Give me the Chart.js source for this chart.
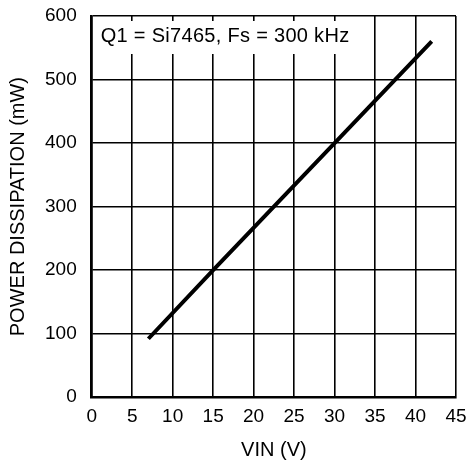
<!DOCTYPE html>
<html>
<head>
<meta charset="utf-8">
<script src="https://cdn.jsdelivr.net/npm/chart.js@4"></script>
<style>
  html, body { margin: 0; padding: 0; background: #fff; }
  #wrap { width: 472px; height: 462px; }
</style>
</head>
<body>
<div id="wrap"><canvas id="myChart" width="472" height="462"></canvas></div>
<script>
const vin = [7, 15, 30, 42];
const power = [92, 200, 400, 560];
const noteText = "Q1 = Si7465, Fs = 300 kHz";

const chartFont = "'Liberation Sans', Arial, sans-serif";

// white box with the condition text, drawn over the grid
const notePlugin = {
  id: "note",
  afterDraw(chart) {
    const ctx = chart.ctx;
    const area = chart.chartArea;
    ctx.save();
    ctx.font = "20px " + chartFont;
    ctx.letterSpacing = "0.3px";
    const w = ctx.measureText(noteText).width;
    ctx.fillStyle = "#fff";
    ctx.fillRect(area.left + 4, area.top + 5, w + 10, 33);
    ctx.fillStyle = "#000";
    ctx.textBaseline = "middle";
    ctx.fillText(noteText, area.left + 9, area.top + 20);
    ctx.restore();
  }
};

new Chart(document.getElementById("myChart"), {
  type: "scatter",
  data: {
    datasets: [{
      data: vin.map((v, i) => ({ x: v, y: power[i] })),
      showLine: true,
      borderColor: "#000",
      borderWidth: 4,
      pointRadius: 0,
      borderCapStyle: "butt"
    }]
  },
  options: {
    responsive: false,
    animation: false,
    layout: { padding: { top: 0, right: 0, left: 2, bottom: 0 } },
    plugins: { legend: { display: false }, tooltip: { enabled: false } },
    scales: {
      x: {
        type: "linear",
        min: 0, max: 45,
        afterFit(scale) { scale.paddingRight = 16; },
        ticks: { stepSize: 5, color: "#000", font: { size: 19, family: chartFont }, padding: 8 },
        grid: { color: "#000", lineWidth: 1.6, drawTicks: false },
        border: { color: "#000", width: 2.5 },
        title: { display: true, text: "VIN (V)", color: "#000", font: { size: 20, family: chartFont }, padding: { top: 2, bottom: 0 } }
      },
      y: {
        min: 0, max: 600,
        afterFit(scale) { scale.paddingTop = 16; scale.paddingBottom = 10; },
        ticks: { stepSize: 100, color: "#000", font: { size: 19, family: chartFont }, padding: 15 },
        grid: { color: "#000", lineWidth: 1.6, drawTicks: false },
        border: { color: "#000", width: 2.5 },
        title: { display: true, text: "POWER DISSIPATION (mW)", color: "#000", font: { size: 20, family: chartFont }, padding: { top: 4, bottom: 0 } }
      }
    }
  },
  plugins: [notePlugin]
});
</script>
</body>
</html>
